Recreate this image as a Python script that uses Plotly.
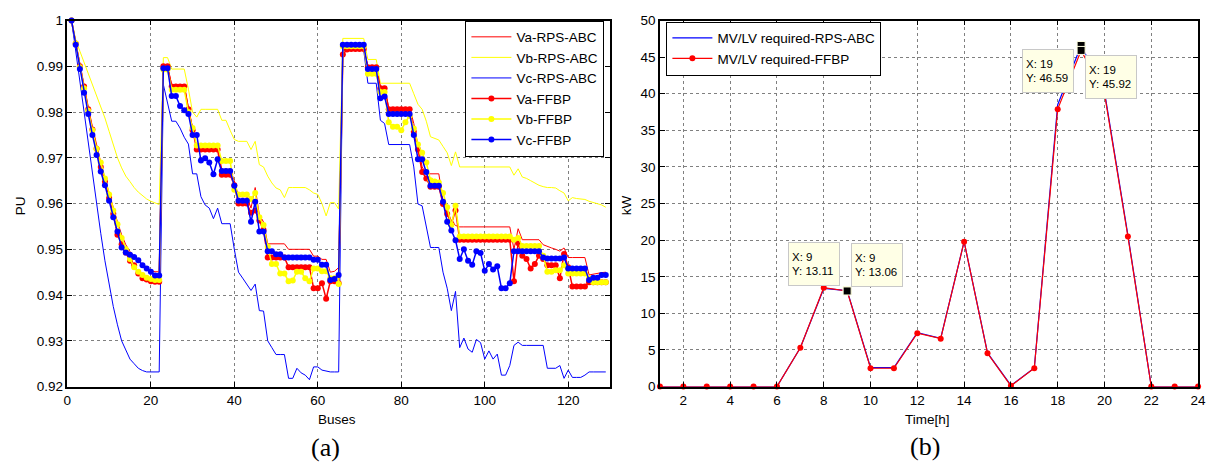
import plotly.graph_objects as go

# ---------------- data: panel (a) ----------------
buses = list(range(1, 130))

va_rps = [
    1.0, 0.9952, 0.9903, 0.9860, 0.9812, 0.9768, 0.9727, 0.9690, 0.9655, 0.9622, 0.9590,
    0.9560, 0.9532, 0.9510, 0.9495, 0.9486, 0.9475, 0.9466, 0.9458, 0.9453, 0.9451, 0.9451,
    0.9898, 0.9898, 0.9860, 0.9860, 0.9860, 0.9860,
    0.9810, 0.9765, 0.9722, 0.9722, 0.9722, 0.9722, 0.9722, 0.9722,
    0.9675, 0.9675, 0.9675, 0.9650,
    0.9615, 0.9615, 0.9615, 0.9590, 0.9635,
    0.9575, 0.9560, 0.9512, 0.9512, 0.9512,
    0.9512, 0.9512, 0.9500, 0.9500, 0.9500,
    0.9500, 0.9500, 0.9500, 0.9485, 0.9485,
    0.9478, 0.9478, 0.9450, 0.9452, 0.9460,
    0.9937, 0.9937, 0.9937, 0.9937, 0.9937, 0.9937,
    0.9901, 0.9901, 0.9901, 0.9856, 0.9856,
    0.9810, 0.9810, 0.9810, 0.9810, 0.9810, 0.9810,
    0.9775, 0.9725, 0.9680, 0.9665, 0.9665, 0.9665, 0.9665, 0.9606, 0.9584, 0.9563, 0.9552,
    0.9549, 0.9549, 0.9549, 0.9549, 0.9549, 0.9549, 0.9549, 0.9549, 0.9549, 0.9549, 0.9549, 0.9549, 0.9549,
    0.9500, 0.9545, 0.9521, 0.9521, 0.9521, 0.9521, 0.9521,
    0.9510, 0.9506, 0.9503, 0.9500, 0.9496, 0.9503,
    0.9482, 0.9482, 0.9482, 0.9482, 0.9482,
    0.9444, 0.9446, 0.9447, 0.9449, 0.9450,
]

vb_rps = [
    1.0, 0.9958, 0.9933, 0.9909, 0.9885, 0.9861, 0.9837, 0.9813, 0.9787, 0.9758, 0.9729,
    0.9700, 0.9678, 0.9660, 0.9648, 0.9635, 0.9625, 0.9617, 0.9610, 0.9605, 0.9601, 0.9598,
    0.9919, 0.9919, 0.9894, 0.9894, 0.9894, 0.9894,
    0.9850, 0.9800, 0.9789, 0.9806, 0.9806, 0.9806, 0.9806, 0.9806,
    0.9782, 0.9782, 0.9760, 0.9740,
    0.9736, 0.9736, 0.9736, 0.9718, 0.9736,
    0.9685, 0.9680, 0.9660, 0.9645, 0.9634,
    0.9630, 0.9613, 0.9635, 0.9635, 0.9635,
    0.9635, 0.9635, 0.9630, 0.9623, 0.9620,
    0.9600, 0.9573, 0.9602, 0.9602, 0.9588,
    0.9961, 0.9961, 0.9961, 0.9961, 0.9961, 0.9961,
    0.9915, 0.9915, 0.9915,
    0.9863, 0.9863, 0.9863, 0.9863, 0.9863, 0.9863, 0.9863, 0.9863,
    0.9840, 0.9817, 0.9806, 0.9780, 0.9746, 0.9742, 0.9739, 0.9725, 0.9711, 0.9683, 0.9713,
    0.9680, 0.9680, 0.9680, 0.9680, 0.9680, 0.9680, 0.9680, 0.9680, 0.9680, 0.9680, 0.9680, 0.9680, 0.9680,
    0.9662, 0.9676, 0.9658, 0.9655, 0.9650, 0.9645, 0.9640, 0.9637, 0.9635, 0.9635, 0.9634, 0.9628,
    0.9623, 0.9606, 0.9613, 0.9611, 0.9610, 0.9609, 0.9605, 0.9602, 0.9600, 0.9597, 0.9592,
]

vc_rps = [
    1.0, 0.9932, 0.9865, 0.9800, 0.9735, 0.9668, 0.9600, 0.9535, 0.9475, 0.9420, 0.9375,
    0.9335, 0.9300, 0.9280, 0.9260, 0.9250, 0.9240, 0.9235, 0.9232, 0.9232, 0.9232, 0.9232,
    0.9860, 0.9820, 0.9780, 0.9780, 0.9765, 0.9745,
    0.9730, 0.9665, 0.9665, 0.9615, 0.9597, 0.9590, 0.9567, 0.9590,
    0.9556, 0.9556, 0.9556, 0.9500,
    0.9450, 0.9437, 0.9423, 0.9410, 0.9424,
    0.9366, 0.9365, 0.9300, 0.9285, 0.9270,
    0.9270, 0.9270, 0.9218, 0.9218, 0.9240,
    0.9230, 0.9225, 0.9215, 0.9243, 0.9243,
    0.9236, 0.9234, 0.9232, 0.9232, 0.9232,
    0.9935, 0.9935, 0.9935, 0.9935, 0.9935, 0.9935,
    0.9863, 0.9863, 0.9863, 0.9782, 0.9775,
    0.9729, 0.9729, 0.9729, 0.9729, 0.9729, 0.9729,
    0.9680, 0.9599, 0.9595, 0.9550, 0.9504, 0.9504, 0.9504, 0.9450, 0.9415, 0.9366, 0.9408,
    0.9285, 0.9306, 0.9282, 0.9275, 0.9303, 0.9296, 0.9260, 0.9278, 0.9260, 0.9271, 0.9225, 0.9225, 0.9246,
    0.9290, 0.9297, 0.9290, 0.9290, 0.9290, 0.9290, 0.9290, 0.9290,
    0.9240, 0.9240, 0.9240, 0.9246, 0.9218, 0.9236,
    0.9220, 0.9220, 0.9220, 0.9225, 0.9232,
    0.9232, 0.9232, 0.9232, 0.9232,
]

va_ffbp = [
    1.0, 0.9950, 0.9900, 0.9856, 0.9806, 0.9762, 0.9720, 0.9680, 0.9648, 0.9612, 0.9578,
    0.9532, 0.9511, 0.9493, 0.9475, 0.9465, 0.9447, 0.9437, 0.9434, 0.9430, 0.9429, 0.9429,
    0.9900, 0.9900, 0.9856, 0.9856, 0.9856, 0.9856,
    0.9806, 0.9760, 0.9718, 0.9718, 0.9718, 0.9718, 0.9718, 0.9718,
    0.9663, 0.9663, 0.9663, 0.9640,
    0.9600, 0.9600, 0.9600, 0.9580, 0.9585,
    0.9563, 0.9542, 0.9482, 0.9482, 0.9482,
    0.9482, 0.9482, 0.9461, 0.9461, 0.9461,
    0.9461, 0.9461, 0.9461, 0.9415, 0.9415,
    0.9426, 0.9392, 0.9430, 0.9430, 0.9426,
    0.9926, 0.9937, 0.9938, 0.9938, 0.9938, 0.9938,
    0.9898, 0.9898, 0.9898, 0.9852, 0.9852,
    0.9806, 0.9806, 0.9806, 0.9806, 0.9806, 0.9806,
    0.9757, 0.9718, 0.9669, 0.9655, 0.9637, 0.9637, 0.9637, 0.9599, 0.9577, 0.9556, 0.9585,
    0.9521, 0.9521, 0.9521, 0.9521, 0.9521, 0.9521, 0.9521, 0.9521, 0.9521, 0.9521, 0.9521, 0.9521, 0.9521,
    0.9430, 0.9514, 0.9486, 0.9479, 0.9458, 0.9468, 0.9486, 0.9479,
    0.9465, 0.9465, 0.9465, 0.9437, 0.9490, 0.9461,
    0.9419, 0.9419, 0.9419, 0.9419,
    0.9428, 0.9428, 0.9428, 0.9428, 0.9428,
]

vb_ffbp = [
    1.0, 0.9950, 0.9898, 0.9852, 0.9803, 0.9760, 0.9720, 0.9690, 0.9655, 0.9620, 0.9585,
    0.9555, 0.9525, 0.9500, 0.9479, 0.9461, 0.9451, 0.9444, 0.9438, 0.9435, 0.9433, 0.9433,
    0.9893, 0.9893, 0.9849, 0.9849, 0.9849, 0.9849,
    0.9800, 0.9765, 0.9727, 0.9727, 0.9727, 0.9727, 0.9727, 0.9727,
    0.9693, 0.9693, 0.9693, 0.9630,
    0.9620, 0.9620, 0.9620, 0.9610, 0.9623,
    0.9570, 0.9553, 0.9506, 0.9468, 0.9468,
    0.9447, 0.9447, 0.9430, 0.9432, 0.9451,
    0.9451, 0.9437, 0.9430, 0.9458, 0.9458,
    0.9452, 0.9452, 0.9437, 0.9437, 0.9424,
    0.9944, 0.9944, 0.9944, 0.9944, 0.9944, 0.9944,
    0.9884, 0.9884, 0.9884, 0.9844, 0.9844,
    0.9778, 0.9768, 0.9768, 0.9760, 0.9778, 0.9792,
    0.9764, 0.9729, 0.9711, 0.9690, 0.9651, 0.9648, 0.9646, 0.9623, 0.9592, 0.9553, 0.9595,
    0.9528, 0.9528, 0.9528, 0.9528, 0.9528, 0.9528, 0.9528, 0.9528, 0.9528, 0.9528, 0.9528, 0.9528, 0.9528,
    0.9521, 0.9525, 0.9507, 0.9507, 0.9507, 0.9507, 0.9507,
    0.9486, 0.9451, 0.9451, 0.9454, 0.9454, 0.9465,
    0.9447, 0.9447, 0.9447, 0.9447, 0.9447,
    0.9437, 0.9428, 0.9428, 0.9428, 0.9428,
]

vc_ffbp = [
    1.0, 0.9947, 0.9894, 0.9842, 0.9796, 0.9750, 0.9706, 0.9670, 0.9640, 0.9606, 0.9570,
    0.9539, 0.9504, 0.9493, 0.9488, 0.9483, 0.9476, 0.9465, 0.9458, 0.9451, 0.9443, 0.9443,
    0.9896, 0.9896, 0.9835, 0.9835, 0.9813, 0.9804,
    0.9796, 0.9750, 0.9750, 0.9694, 0.9699, 0.9690, 0.9664, 0.9697,
    0.9671, 0.9671, 0.9671, 0.9639,
    0.9606, 0.9606, 0.9606, 0.9560, 0.9604,
    0.9539, 0.9539, 0.9496, 0.9496, 0.9489,
    0.9489, 0.9482, 0.9482, 0.9482, 0.9482,
    0.9482, 0.9482, 0.9482, 0.9477, 0.9477,
    0.9466, 0.9466, 0.9433, 0.9435, 0.9444,
    0.9947, 0.9947, 0.9947, 0.9947, 0.9947, 0.9947,
    0.9894, 0.9894, 0.9894, 0.9830, 0.9834,
    0.9796, 0.9796, 0.9796, 0.9796, 0.9796, 0.9796,
    0.9750, 0.9697, 0.9697, 0.9669, 0.9639, 0.9639, 0.9639, 0.9604, 0.9560, 0.9541, 0.9520,
    0.9479, 0.9500, 0.9475, 0.9466, 0.9496, 0.9492, 0.9453, 0.9468, 0.9456, 0.9463, 0.9415, 0.9415, 0.9426,
    0.9496, 0.9496, 0.9496, 0.9496, 0.9496, 0.9496, 0.9496,
    0.9482, 0.9480, 0.9480, 0.9480, 0.9480, 0.9482,
    0.9458, 0.9458, 0.9458, 0.9458, 0.9458,
    0.9433, 0.9438, 0.9438, 0.9444, 0.9444,
]

for s in (va_rps, vb_rps, vc_rps, va_ffbp, vb_ffbp, vc_ffbp):
    assert len(s) == len(buses), len(s)

pu_ticks = [0.92, 0.93, 0.94, 0.95, 0.96, 0.97, 0.98, 0.99, 1.0]
pu_ticklabels = ["0.92", "0.93", "0.94", "0.95", "0.96", "0.97", "0.98", "0.99", "1"]
bus_ticks = [0, 20, 40, 60, 80, 100, 120]

# ---------------- data: panel (b) ----------------
hours = list(range(1, 25))
mvlv_rps = [0, 0, 0, 0, 0, 0, 5.3, 13.4, 13.11, 2.6, 2.6, 7.35, 6.6, 19.8, 4.6, 0.15, 2.55,
            38.5, 46.59, 40.3, 20.7, 0, 0, 0]
mvlv_ffbp = [0, 0, 0, 0, 0, 0, 5.3, 13.5, 13.06, 2.5, 2.5, 7.3, 6.55, 19.8, 4.55, 0.1, 2.5,
             37.9, 45.92, 40.0, 20.5, 0, 0, 0]
tip_hours = [9, 19]
hour_ticks = [2, 4, 6, 8, 10, 12, 14, 16, 18, 20, 22, 24]
kw_ticks = [0, 5, 10, 15, 20, 25, 30, 35, 40, 45, 50]

RED = "#FF0000"
YEL = "#FFFF00"
BLU = "#0000FF"
FONT = "Liberation Sans, Arial, sans-serif"

W, H = 1215, 473

fig = go.Figure()

# panel (a) traces
fig.add_trace(go.Scatter(x=buses, y=va_rps, mode="lines", name="Va-RPS-ABC",
                         line=dict(color=RED, width=1), xaxis="x", yaxis="y"))
fig.add_trace(go.Scatter(x=buses, y=vb_rps, mode="lines", name="Vb-RPS-ABC",
                         line=dict(color=YEL, width=1), xaxis="x", yaxis="y"))
fig.add_trace(go.Scatter(x=buses, y=vc_rps, mode="lines", name="Vc-RPS-ABC",
                         line=dict(color=BLU, width=1), xaxis="x", yaxis="y"))
fig.add_trace(go.Scatter(x=buses, y=va_ffbp, mode="lines+markers", name="Va-FFBP",
                         line=dict(color=RED, width=1.5), marker=dict(color=RED, size=6),
                         cliponaxis=False, xaxis="x", yaxis="y"))
fig.add_trace(go.Scatter(x=buses, y=vb_ffbp, mode="lines+markers", name="Vb-FFBP",
                         line=dict(color=YEL, width=1.5), marker=dict(color=YEL, size=6),
                         cliponaxis=False, xaxis="x", yaxis="y"))
fig.add_trace(go.Scatter(x=buses, y=vc_ffbp, mode="lines+markers", name="Vc-FFBP",
                         line=dict(color=BLU, width=1.5), marker=dict(color=BLU, size=6),
                         cliponaxis=False, xaxis="x", yaxis="y"))

# panel (b) traces
fig.add_trace(go.Scatter(x=hours, y=mvlv_rps, mode="lines", name="MV/LV required-RPS-ABC",
                         line=dict(color=BLU, width=1.2), xaxis="x2", yaxis="y2", legend="legend2"))
fig.add_trace(go.Scatter(x=hours, y=mvlv_ffbp, mode="lines+markers", name="MV/LV required-FFBP",
                         line=dict(color=RED, width=1.2), marker=dict(color=RED, size=6),
                         cliponaxis=False, xaxis="x2", yaxis="y2", legend="legend2"))

# data-tip markers
tip_x, tip_y = [], []
for h in tip_hours:
    tip_x += [h, h]
    tip_y += [mvlv_rps[h - 1], mvlv_ffbp[h - 1]]
fig.add_trace(go.Scatter(x=tip_x, y=tip_y, mode="markers", showlegend=False,
                         marker=dict(symbol="square", size=8, color="black",
                                     line=dict(color="#FFFFE1", width=1)),
                         xaxis="x2", yaxis="y2"))

axis_common = dict(showline=True, linecolor="black", linewidth=1.5, mirror="ticks",
                   ticks="inside", ticklen=5, tickwidth=1, tickcolor="black",
                   showgrid=True, gridcolor="#808080", gridwidth=1, griddash="dot",
                   zeroline=False, tickfont=dict(family=FONT, size=13.5, color="black"))

def px(xp):
    return xp / W

def py(yp):
    return 1 - yp / H

annotations = []
def label(text, x, y, size=13.5, family=FONT, angle=0):
    annotations.append(dict(text=text, x=px(x), y=py(y), xref="paper", yref="paper",
                            showarrow=False, xanchor="center", yanchor="middle",
                            textangle=angle, font=dict(family=family, size=size, color="black")))

label("Buses", 336, 426)
label("Time[h]", 933, 426)
label("PU", 17, 205, angle=-90)
label("kW", 629, 205, angle=-90)
label("(a)", 325, 455, size=26, family="Liberation Serif, Times New Roman, serif")
label("(b)", 930, 454, size=26, family="Liberation Serif, Times New Roman, serif")

def tip(h, series, cx, cy):
    annotations.append(dict(text=f"X: {h}<br>Y: {series[h - 1]:.2f}", x=px(cx), y=py(cy),
                            xref="paper", yref="paper", showarrow=False,
                            xanchor="center", yanchor="middle", align="left",
                            width=44, height=36, borderpad=3,
                            bgcolor="#FFFFE6", bordercolor="#C8C8C8", borderwidth=1,
                            font=dict(family=FONT, size=11.5, color="black")))

tip(9, mvlv_rps, 818, 265)
tip(9, mvlv_ffbp, 882, 266)
tip(19, mvlv_rps, 1054, 66)
tip(19, mvlv_ffbp, 1118, 72)

ydom = [1 - 392 / H, 1 - 14 / H]

fig.update_layout(
    width=W, height=H, autosize=False,
    margin=dict(l=0, r=0, t=0, b=0),
    paper_bgcolor="white", plot_bgcolor="white",
    font=dict(family=FONT, color="black"),
    xaxis=dict(domain=[64 / W, 612 / W], range=[0, 130], tickvals=bus_ticks, anchor="y", **axis_common),
    yaxis=dict(domain=ydom, range=[0.92, 1.0], tickvals=pu_ticks, ticktext=pu_ticklabels,
               anchor="x", **axis_common),
    xaxis2=dict(domain=[662.5 / W, 1206 / W], range=[1, 24], tickvals=hour_ticks, anchor="y2",
                **axis_common),
    yaxis2=dict(domain=ydom, range=[0, 50], tickvals=kw_ticks, anchor="x2", **axis_common),
    legend=dict(x=px(466), y=py(14), xanchor="left", yanchor="top",
                bgcolor="white", bordercolor="black", borderwidth=1,
                font=dict(family=FONT, size=13.5, color="black"),
                itemwidth=40, tracegroupgap=0),
    legend2=dict(x=px(669), y=py(15), xanchor="left", yanchor="top",
                 bgcolor="white", bordercolor="black", borderwidth=1,
                 font=dict(family=FONT, size=13.5, color="black"),
                 itemwidth=40, tracegroupgap=0),
    annotations=annotations,
    showlegend=True,
)

fig.write_html("out.html")
